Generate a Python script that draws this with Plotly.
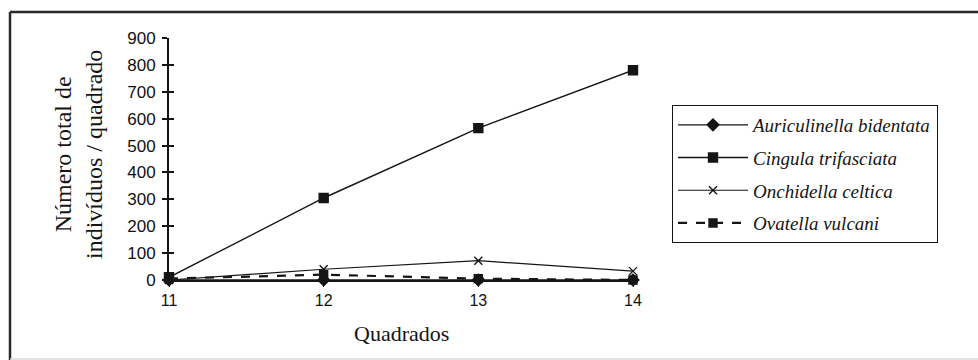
import plotly.graph_objects as go

# Quadrat numbers along the transect
quadrados = [11, 12, 13, 14]

# Total number of individuals per quadrat, by species
auriculinella = [0, 0, 0, 0]
cingula = [10, 305, 565, 780]
onchidella = [0, 40, 72, 33]
ovatella = [5, 20, 5, 0]

y_ticks = [0, 100, 200, 300, 400, 500, 600, 700, 800, 900]

INK = "#151515"

# plot area in pixels: x 169..633, y 38..280
PX_L, PX_R, PX_T, PX_B = 169, 633, 38, 280


def px(x):
    return (x - PX_L) / (PX_R - PX_L)


def py(y):
    return (PX_B - y) / (PX_B - PX_T)


fig = go.Figure()

series = [
    ("Auriculinella bidentata", auriculinella, "diamond", 9, "solid", 1.4),
    ("Cingula trifasciata", cingula, "square", 9, "solid", 1.4),
    ("Onchidella celtica", onchidella, "x-thin-open", 8, "solid", 1.2),
    ("Ovatella vulcani", ovatella, "square", 8, "dash", 2.2),
]

for name, vals, sym, size, dash, lw in series:
    fig.add_trace(go.Scatter(
        x=quadrados, y=vals, name=name, legendgroup=name,
        mode="lines+markers",
        line=dict(color=INK, width=lw, dash=dash),
        marker=dict(symbol=sym, size=size, color=INK,
                    line=dict(color=INK, width=1.4)),
        cliponaxis=False,
    ))

# second y axis overlay gives the ticks that cross the axis line
fig.add_trace(go.Scatter(x=[11], y=[0], yaxis="y2", showlegend=False,
                         mode="markers", marker=dict(opacity=0),
                         hoverinfo="skip"))

fig.update_layout(
    width=978, height=360,
    margin=dict(l=PX_L, r=978 - PX_R, t=PX_T, b=360 - PX_B),
    paper_bgcolor="white", plot_bgcolor="white",
    showlegend=True,
    legend=dict(
        x=px(672), y=py(105), xanchor="left", yanchor="top",
        bordercolor=INK, borderwidth=1,
        bgcolor="white",
        font=dict(family="Liberation Serif", size=19, color=INK, style="italic"),
        traceorder="grouped", tracegroupgap=5,
        itemwidth=70,
    ),
    xaxis=dict(
        range=[11, 14], tickvals=quadrados,
        showline=True, linecolor=INK, linewidth=1.5,
        ticks="outside", ticklen=5, tickcolor=INK,
        showgrid=False, zeroline=False,
        tickfont=dict(family="Arial", size=16, color="#111"),
    ),
    yaxis=dict(
        range=[0, 900], tickvals=y_ticks,
        showline=True, linecolor=INK, linewidth=2,
        ticks="outside", ticklen=5, tickwidth=1.5, tickcolor=INK,
        showgrid=False, zeroline=False,
        tickfont=dict(family="Arial", size=17, color="#111"),
        ticklabelstandoff=3,
    ),
    yaxis2=dict(
        range=[0, 900], tickvals=y_ticks, overlaying="y", side="left",
        anchor="x", showline=False, ticks="inside", ticklen=5,
        tickwidth=1.5, tickcolor=INK, showticklabels=False,
        showgrid=False, zeroline=False,
    ),
    annotations=[
        dict(text="Número total de<br>indivíduos / quadrado",
             xref="paper", yref="paper", x=px(78), y=py(155),
             xanchor="center", yanchor="middle",
             textangle=-90, showarrow=False,
             font=dict(family="Liberation Serif", size=24, color=INK)),
        dict(text="Quadrados", xref="paper", yref="paper",
             x=0.5, y=py(333), yanchor="middle", showarrow=False,
             font=dict(family="Liberation Serif", size=22, color=INK)),
    ],
    shapes=[
        # outer frame: top and left edges dark, bottom edge faint
        dict(type="line", xref="paper", yref="paper",
             x0=px(10), x1=px(990), y0=py(12), y1=py(12),
             line=dict(color="#2a2a2a", width=2.5)),
        dict(type="line", xref="paper", yref="paper",
             x0=px(10), x1=px(10), y0=py(12), y1=py(362),
             line=dict(color="#2a2a2a", width=2.5)),
        dict(type="line", xref="paper", yref="paper",
             x0=px(10), x1=px(990), y0=py(359), y1=py(359),
             line=dict(color="#d8d8d8", width=1.5)),
    ],
)

fig.write_html("out.html")
